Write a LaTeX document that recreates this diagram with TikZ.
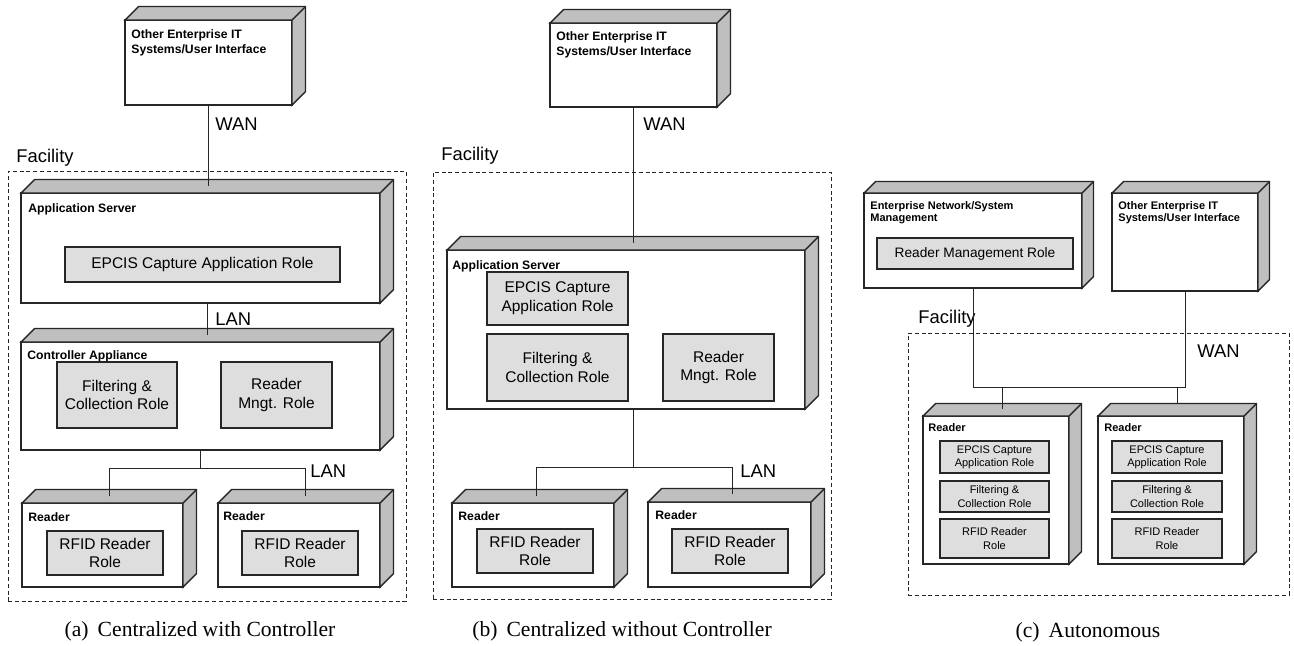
\documentclass[tikz,border=0pt]{standalone}
\usepackage{fontspec}
\setmainfont{Liberation Serif}
\newfontfamily\arial{Liberation Sans}

% 3-D node box: name, x1, y1, x2, y2 (front face), depth
\newcommand\boxnode[6]{%
  \node[front, minimum width={(#4-#2)*0.5pt}, minimum height={(#5-#3)*0.5pt}]
    (#1) at ({(#2+#4)/2},{(#3+#5)/2}) {};
  \filldraw[side] (#1.north west) -- ++(#6,-#6)
    -- ([shift={(#6,-#6)}]#1.north east) -- ([shift={(#6,-#6)}]#1.south east)
    -- (#1.south east) -- (#1.north east) -- cycle;
  \draw[side] (#1.north east) -- ++(#6,-#6);
  \coordinate (#1-top) at ([shift={(#6/2,-#6/2)}]#1.north);
}
% grey role box: [extra style] name, x1, y1, x2, y2, text
\newcommand\rolenode[7][]{%
  \node[role, #1, minimum width={(#5-#3)*0.5pt}, minimum height={(#6-#4)*0.5pt}]
    (#2) at ({(#3+#5)/2},{(#4+#6)/2}) {#7};
}

\tikzset{
  front/.style={draw=black!85, fill=white, line width=0.7pt, inner sep=0pt, outer sep=0pt},
  side/.style={draw=black!85, fill=black!25, line width=0.7pt, line join=miter},
  role/.style={draw=black!85, fill=black!13, line width=0.65pt, inner sep=0pt, outer sep=0pt,
    align=center, font=\arial\fontsize{7.75}{9.4}\selectfont},
  smallrole/.style={font=\arial\fontsize{5.5}{6.6}\selectfont},
  midrole/.style={font=\arial\fontsize{6.85}{8}\selectfont},
  lbl/.style={anchor=north west, inner sep=0pt, align=left,
    font=\arial\bfseries\fontsize{6.1}{7.5}\selectfont},
  smalllbl/.style={font=\arial\bfseries\fontsize{5.5}{6.3}\selectfont},
  net/.style={anchor=north west, inner sep=0pt, font=\arial\fontsize{9.2}{11}\selectfont},
  facility/.style={draw=black!85, dash pattern=on 2pt off 1.4pt, line width=0.5pt,
    inner sep=0pt, outer sep=0pt},
  wire/.style={draw=black!85, line width=0.5pt},
  caption/.style={anchor=base, inner sep=0pt, font=\fontsize{10.8}{13}\selectfont}
}

\begin{document}
\begin{tikzpicture}[x=0.5pt, y=-0.5pt]
\useasboundingbox (0,0) rectangle (1294,645);

% ---------------- (a) centralized with controller ----------------
\node[facility, minimum width={398*0.5pt}, minimum height={430*0.5pt}] (a-fac) at (207,386) {};
\node[net] (a-fac-l) at (16,148.5) {Facility};

\boxnode{a-it}{125}{20}{292}{105}{13.5}
\node[lbl] (a-it-l) at (131,29.5) {Other Enterprise IT\\Systems/User Interface};

\boxnode{a-app}{21}{193}{380}{303}{13.5}
\node[lbl] (a-app-l) at (28,203) {Application Server};
\rolenode{a-epcis}{65}{247}{340}{282}{EPCIS Capture Application Role}

\boxnode{a-ctl}{21}{342}{380}{450}{13.5}
\node[lbl] (a-ctl-l) at (27,350) {Controller Appliance};
\rolenode{a-filt}{57}{362}{177}{428}{Filtering \&\\Collection Role}
\rolenode{a-mng}{221}{362}{332}{428}{Reader\\Mngt. Role}

\boxnode{a-r1}{22}{503}{183}{587}{13.5}
\node[lbl] (a-r1-l) at (28,512) {Reader};
\rolenode{a-rf1}{47}{531}{163}{575}{RFID Reader\\Role}

\boxnode{a-r2}{218}{503}{380}{587}{13.5}
\node[lbl] (a-r2-l) at (223,511) {Reader};
\rolenode{a-rf2}{242}{531}{358}{575}{RFID Reader\\Role}

\node[net] (a-wan) at (215,117) {WAN};
\node[net] (a-lan1) at (215,312) {LAN};
\node[net] (a-lan2) at (310,464) {LAN};

\draw[wire] (a-it.south) -- (a-it.south |- a-app-top);
\draw[wire] (a-ctl-top |- a-app.south) -- (a-ctl-top);
\coordinate (a-bus) at (200.5,468);
\draw[wire] (a-ctl.south) -- (a-bus);
\draw[wire] (a-r1-top) |- (a-bus) -| (a-r2-top);

\node[caption] (a-cap) at (200,636.5) {(a)\hspace{0.42em}Centralized with Controller};

% ---------------- (b) centralized without controller ----------------
\node[facility, minimum width={398*0.5pt}, minimum height={427*0.5pt}] (b-fac) at (632,385.5) {};
\node[net] (b-fac-l) at (441,147) {Facility};

\boxnode{b-it}{550}{23}{717}{107}{13.5}
\node[lbl] (b-it-l) at (556,31) {Other Enterprise IT\\Systems/User Interface};

\boxnode{b-app}{447}{250}{805}{409}{13.5}
\node[lbl] (b-app-l) at (452,260) {Application Server};
\rolenode{b-epcis}{487}{272}{628}{325}{EPCIS Capture\\Application Role}
\rolenode{b-filt}{487}{334}{628}{401}{Filtering \&\\Collection Role}
\rolenode{b-mng}{663}{334}{774}{401}{Reader\\Mngt. Role}

\boxnode{b-r1}{452}{503}{614}{587}{13.5}
\node[lbl] (b-r1-l) at (458,511) {Reader};
\rolenode{b-rf1}{477}{529}{593}{573}{RFID Reader\\Role}

\boxnode{b-r2}{648}{502}{811}{587}{13.5}
\node[lbl] (b-r2-l) at (655,510) {Reader};
\rolenode{b-rf2}{672}{529}{788}{573}{RFID Reader\\Role}

\node[net] (b-wan) at (643,117) {WAN};
\node[net] (b-lan) at (740,464) {LAN};

\draw[wire] (b-it.south) -- (b-it.south |- b-app-top);
\coordinate (b-bus) at (633,467);
\coordinate (b-d1) at (536,496);
\coordinate (b-d2) at (732,494);
\draw[wire] (b-bus |- b-app.south) -- (b-bus);
\draw[wire] (b-d1) |- (b-bus) -| (b-d2);

\node[caption] (b-cap) at (622,636.5) {(b)\hspace{0.42em}Centralized without Controller};

% ---------------- (c) autonomous ----------------
\node[facility, minimum width={381*0.5pt}, minimum height={262*0.5pt}] (c-fac) at (1098.5,464) {};
\node[net] (c-fac-l) at (918,310) {Facility};

\boxnode{c-ent}{864}{193}{1082}{288}{11.5}
\node[lbl, smalllbl] (c-ent-l) at (870,201) {Enterprise Network/System\\Management};
\rolenode[midrole]{c-rmr}{877}{238}{1073}{269}{Reader Management Role}

\boxnode{c-it}{1112}{193}{1258}{291}{11.5}
\node[lbl, smalllbl] (c-it-l) at (1118,201) {Other Enterprise IT\\Systems/User Interface};

\boxnode{c-r1}{923}{416}{1069}{564}{12.5}
\node[lbl, smalllbl] (c-r1-l) at (928,423.5) {Reader};
\rolenode[smallrole]{c-r1a}{940}{441}{1049}{473}{EPCIS Capture\\Application Role}
\rolenode[smallrole]{c-r1b}{940}{481}{1049}{512}{Filtering \&\\Collection Role}
\rolenode[smallrole]{c-r1c}{940}{519}{1049}{558}{RFID Reader\\Role}

\boxnode{c-r2}{1098}{416}{1244}{564}{12.5}
\node[lbl, smalllbl] (c-r2-l) at (1104,423.5) {Reader};
\rolenode[smallrole]{c-r2a}{1112}{441}{1222}{473}{EPCIS Capture\\Application Role}
\rolenode[smallrole]{c-r2b}{1112}{481}{1222}{512}{Filtering \&\\Collection Role}
\rolenode[smallrole]{c-r2c}{1112}{519}{1222}{558}{RFID Reader\\Role}

\node[net] (c-wan) at (1197,344) {WAN};

\coordinate (c-bus) at (1080,387);
\coordinate (c-d1) at (1002,409);
\coordinate (c-d2) at (1177,403);
\draw[wire] (c-ent.south) -- (c-ent.south |- c-bus) -- (c-it.south |- c-bus) -- (c-it.south);
\draw[wire] (c-d1 |- c-bus) -- (c-d1);
\draw[wire] (c-d2 |- c-bus) -- (c-d2);

\node[caption] (c-cap) at (1088,637) {(c)\hspace{0.42em}Autonomous};
\end{tikzpicture}
\end{document}
